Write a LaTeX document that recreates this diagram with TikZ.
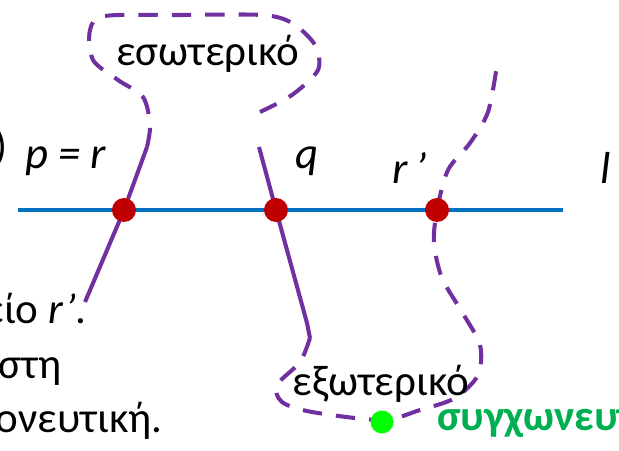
\documentclass[tikz,border=0pt]{standalone}
\usepackage{fontspec}
\setmainfont{Carlito}
\usetikzlibrary{positioning}
\definecolor{curvecol}{HTML}{7030A0}
\definecolor{linecol}{HTML}{0070C0}
\definecolor{hitcol}{HTML}{C00000}
\definecolor{mergecol}{HTML}{00B050}
\definecolor{mergedotcol}{HTML}{00FF00}

\begin{document}
\begin{tikzpicture}[x=0.02cm, y=-0.02cm,
    txt/.style={font=\fontsize{24.5}{29}\selectfont, inner sep=0pt},
    lbl/.style={font=\fontsize{25.5}{30}\selectfont\itshape, inner sep=0pt},
    hit/.style={circle, fill=hitcol, minimum size=0.48cm, inner sep=0pt},
    mergedot/.style={circle, fill=mergedotcol, minimum size=0.46cm, inner sep=0pt},
    solidcurve/.style={draw=curvecol, line width=2.3pt},
    dashcurve/.style={draw=curvecol, line width=2.3pt, dash pattern=on 11pt off 8pt}]
  \useasboundingbox (0,0) rectangle (619,450);

  % line l and the points on it
  \coordinate (l0) at (18,210);
  \coordinate (l1) at (563,210);
  \draw[linecol, line width=2pt] (l0) -- (l1);

  \coordinate (r) at (124,210);
  \coordinate (q) at (276,210);
  \coordinate (rp) at (437,210);

  % boundary curves
  \draw[solidcurve] (85,302) -- (r) -- (147,147);
  \draw[dashcurve] plot[smooth] coordinates {(147,147) (150,125) (143,97) (118,80)
      (93,60) (90,30) (105,16) (180,15) (262,15) (292,23) (315,45) (318,70)
      (292,95) (260,112)};
  \draw[solidcurve] (259,147) -- (q) -- (307,323) -- (310,338);
  \draw[dashcurve] plot[smooth] coordinates {(310,338) (300,362) (277,385)
      (282,402) (312,412) (382,420) (420,410) (455,398) (478,375) (480,345)
      (462,312) (442,278) (434,243) (rp) (448,170) (470,143) (488,112) (497,65)};

  \node[hit] (rdot) at (r) {};
  \node[hit] (qdot) at (q) {};
  \node[hit] (rpdot) at (rp) {};
  \node[mergedot] (m) at (382,422) {};

  % region names
  \node[txt, anchor=base] (inner) at (208,65) {εσωτερικό};
  \node[txt, anchor=base] (outer) at (381,395) {εξωτερικό};

  % labels
  \node[lbl, anchor=base west] (prlbl) at (25,168) {p = r};
  \node[lbl, anchor=base west] (qlbl) at (295,168) {q};
  \node[lbl, anchor=base west] (rplbl) at (392,183) {r\,’};
  \node[lbl, anchor=base west] (llbl) at (600,183) {l};

  % text cut by the frame
  \node[txt, anchor=base east] (paren) at (8,160) {)};
  \node[txt, anchor=base east] (line1) at (87,323) {είο \textit{r’}.};
  \node[txt, anchor=base east] (line2) at (62,378) {στη};
  \node[txt, anchor=base east] (line3) at (163,432) {ονευτική.};
  \node[txt, font=\fontsize{24.5}{29}\selectfont\bfseries, text=mergecol,
        anchor=base west] (merge) at (437,430) {συγχωνευτ};
\end{tikzpicture}
\end{document}
